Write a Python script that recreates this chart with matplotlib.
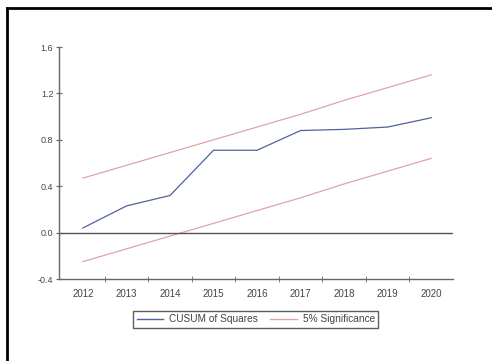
import matplotlib
matplotlib.use("Agg")
import matplotlib.pyplot as plt
from matplotlib.lines import Line2D

years = [2012, 2013, 2014, 2015, 2016, 2017, 2018, 2019, 2020]
cusum_sq = [0.04, 0.23, 0.32, 0.71, 0.71, 0.88, 0.89, 0.91, 0.99]
upper_5 = [0.47, 0.58, 0.69, 0.80, 0.91, 1.02, 1.14, 1.25, 1.36]
lower_5 = [-0.25, -0.14, -0.03, 0.08, 0.19, 0.30, 0.42, 0.53, 0.64]
ytick_vals = [-0.4, 0.0, 0.4, 0.8, 1.2, 1.6]

plt.rcParams["font.family"] = ["Liberation Sans", "DejaVu Sans"]

fig = plt.figure(figsize=(4.92, 3.61), dpi=100)
ax = fig.add_axes([0.1199, 0.2271, 0.8008, 0.6427])

blue = "#52609e"
red = "#e0a4a4"
ax.plot(years, cusum_sq, color=blue, lw=0.9, label="CUSUM of Squares")
ax.plot(years, upper_5, color=red, lw=0.9, label="5% Significance")
ax.plot(years, lower_5, color=red, lw=0.9)
ax.axhline(0.0, color="#555555", lw=1.0)

ax.set_xlim(2011.45, 2020.5)
ax.set_ylim(-0.4, 1.6)
ax.set_yticks(ytick_vals)
ax.set_yticklabels([f"{v:.1f}" for v in ytick_vals])
ax.set_xticks(years)
ax.set_xticklabels([str(y) for y in years])
ax.set_xticks([y + 0.5 for y in years[:-1]], minor=True)

for s in ("top", "right"):
    ax.spines[s].set_visible(False)
for s in ("left", "bottom"):
    ax.spines[s].set_color("#666666")
    ax.spines[s].set_linewidth(1.0)

ax.tick_params(axis="x", which="major", length=0, pad=7, labelsize=7, labelcolor="#444444")
ax.tick_params(axis="x", which="minor", length=4, direction="inout", color="#666666")
ax.tick_params(axis="y", length=4, direction="inout", color="#666666", pad=2,
               labelsize=6.5, labelcolor="#444444")

handles = [Line2D([], [], color=blue, lw=1.0), Line2D([], [], color=red, lw=1.0)]
leg = fig.legend(handles, ["CUSUM of Squares", "5% Significance"], loc="center",
                 bbox_to_anchor=(0.52, 0.115), ncol=2, fontsize=7.3, frameon=True,
                 fancybox=False, handlelength=2.6, columnspacing=1.2,
                 borderpad=0.35, handletextpad=0.6)
leg.get_frame().set_edgecolor("#333333")
leg.get_frame().set_linewidth(1.0)
for t in leg.get_texts():
    t.set_color("#444444")

# outer frame, open on the right and bottom
fig.add_artist(Line2D([0.0142, 0.0142], [0.0, 0.978], color="black", lw=2.0,
                      transform=fig.transFigure))
fig.add_artist(Line2D([0.0142, 1.0], [0.978, 0.978], color="black", lw=2.0,
                      transform=fig.transFigure))

fig.savefig("out.png", dpi=100)
